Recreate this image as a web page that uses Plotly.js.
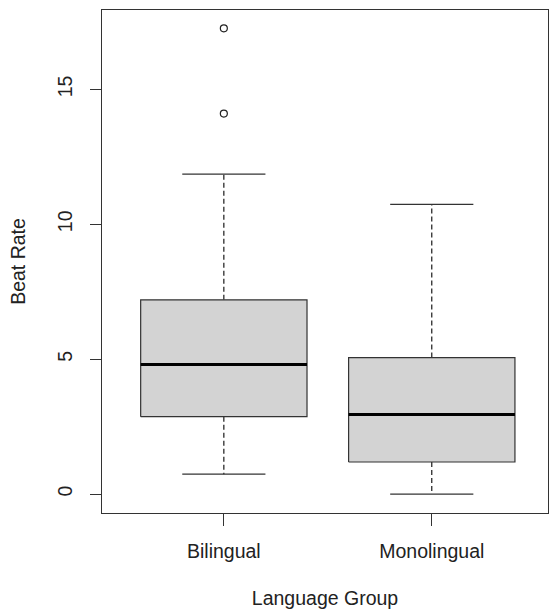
<!DOCTYPE html>
<html>
<head>
<meta charset="utf-8">
<script src="https://cdn.plot.ly/plotly-3.0.1.min.js"></script>
<style>html,body{margin:0;padding:0;background:#fff;}#chart{width:550px;height:613px;}</style>
</head>
<body>
<div id="chart"></div>
<script>
// Data
const groups = ["Bilingual", "Monolingual"];
const positions = [1, 2];
const lowerWhisker = [0.74, 0.0];
const q1 = [2.87, 1.19];
const median = [4.80, 2.95];
const q3 = [7.20, 5.06];
const upperWhisker = [11.86, 10.74];
const outlierGroup = [1, 1];
const outlierValues = [14.10, 17.26];
const yTicks = [0, 5, 10, 15];

const boxHalf = 0.4, capHalf = 0.2;
const traces = [];
groups.forEach((g, i) => {
  const x = positions[i];
  // dashed whiskers
  traces.push({
    type: 'scatter', mode: 'lines', hoverinfo: 'skip', showlegend: false,
    x: [x, x, null, x, x],
    y: [q3[i], upperWhisker[i], null, q1[i], lowerWhisker[i]],
    line: {color: '#1a1a1a', width: 1.2, dash: '5px,3px'}
  });
  // caps
  traces.push({
    type: 'scatter', mode: 'lines', hoverinfo: 'skip', showlegend: false,
    x: [x - capHalf, x + capHalf, null, x - capHalf, x + capHalf],
    y: [upperWhisker[i], upperWhisker[i], null, lowerWhisker[i], lowerWhisker[i]],
    line: {color: '#333', width: 1.2}
  });
  // box
  traces.push({
    type: 'scatter', mode: 'lines', name: g, showlegend: false,
    x: [x - boxHalf, x + boxHalf, x + boxHalf, x - boxHalf, x - boxHalf],
    y: [q1[i], q1[i], q3[i], q3[i], q1[i]],
    fill: 'toself', fillcolor: '#d3d3d3',
    line: {color: '#333', width: 1.2}
  });
  // median
  traces.push({
    type: 'scatter', mode: 'lines', hoverinfo: 'skip', showlegend: false,
    x: [x - boxHalf, x + boxHalf],
    y: [median[i], median[i]],
    line: {color: '#000', width: 3}
  });
});
traces.push({
  type: 'scatter', mode: 'markers', showlegend: false,
  x: outlierGroup, y: outlierValues,
  marker: {symbol: 'circle-open', size: 7, color: '#222', line: {width: 1.2, color: '#222'}}
});

const font = {family: 'Liberation Sans, Arial, sans-serif', size: 19.5, color: '#222'};
const layout = {
  width: 550, height: 613,
  margin: {l: 102, r: 2, t: 10, b: 100},
  paper_bgcolor: '#fff', plot_bgcolor: '#fff',
  font: font,
  showlegend: false,
  xaxis: {
    range: [0.414, 2.559],
    tickvals: positions, ticktext: groups,
    ticks: 'outside', ticklen: 12, tickcolor: '#333', tickwidth: 1,
    showline: true, mirror: true, linecolor: '#333', linewidth: 1.2,
    showgrid: false, zeroline: false,
    ticklabelstandoff: 8,
    title: {text: 'Language Group', font: font, standoff: 30}
  },
  yaxis: {
    range: [-0.70, 17.94],
    tickvals: yTicks,
    tickangle: -90,
    ticks: 'outside', ticklen: 11, tickcolor: '#333', tickwidth: 1,
    showline: true, mirror: true, linecolor: '#333', linewidth: 1.2,
    showgrid: false, zeroline: false,
    ticklabelstandoff: 10,
    title: {text: 'Beat Rate', font: font, standoff: 23}
  }
};
Plotly.newPlot('chart', traces, layout, {displayModeBar: false, staticPlot: true});
</script>
</body>
</html>
